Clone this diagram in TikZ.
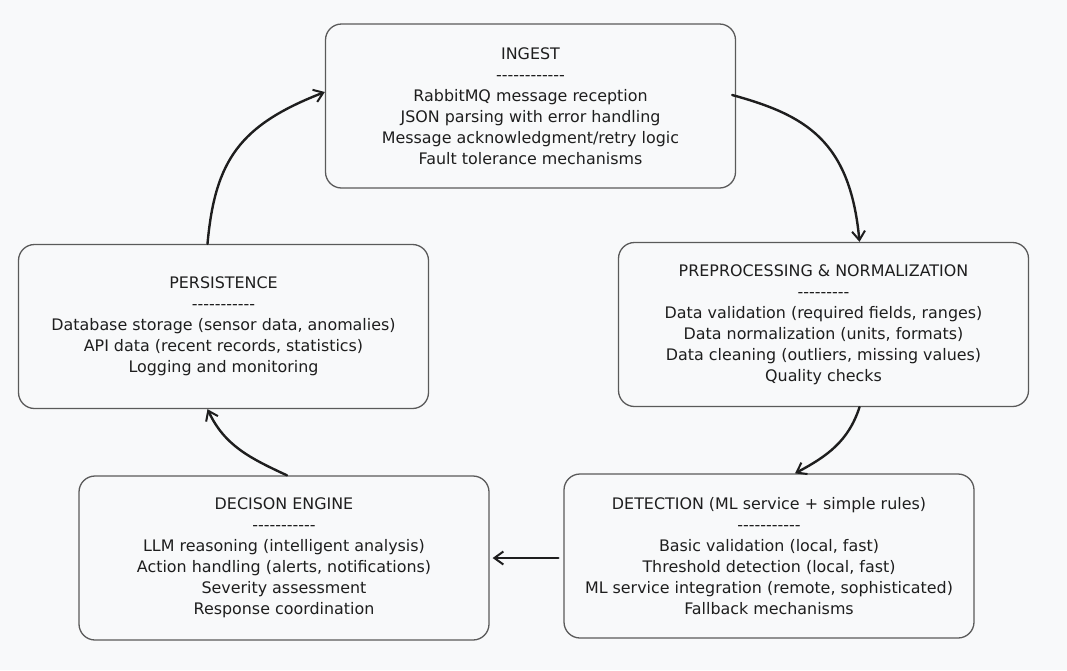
\documentclass[tikz,border=0pt]{standalone}
\usepackage{fontspec}
\setmainfont{DejaVu Sans}
\usetikzlibrary{arrows.meta}
\definecolor{bg}{HTML}{F8F9FA}
\definecolor{ink}{HTML}{1E1E1E}
\definecolor{edge}{HTML}{5A5A5A}
\newcommand{\hy}{-{}}
\begin{document}
\begin{tikzpicture}[x=1pt,y=-1pt,
  stage/.style={draw=edge, line width=1.3pt, rounded corners=16pt, fill=bg,
    text=ink, align=center, font=\fontsize{15.9}{21}\selectfont, inner sep=0pt,
    minimum width=410pt, minimum height=164pt},
  flow/.style={draw=ink, line width=2.4pt, line cap=round,
    -{Straight Barb[length=9pt,width=13pt,line width=2pt]}}]
\fill[bg] (0,0) rectangle (1067,670);
\useasboundingbox (0,0) rectangle (1067,670);

\node[stage] (ingest) at (530.5,106) {INGEST\\
  \hy\hy\hy\hy\hy\hy\hy\hy\hy\hy\hy\hy\\
  RabbitMQ message reception\\
  JSON parsing with error handling\\
  Message acknowledgment/retry logic\\
  Fault tolerance mechanisms};

\node[stage] (prep) at (823.5,324.5) {PREPROCESSING \& NORMALIZATION\\
  \hy\hy\hy\hy\hy\hy\hy\hy\hy\\
  Data validation (required fields, ranges)\\
  Data normalization (units, formats)\\
  Data cleaning (outliers, missing values)\\
  Quality checks};

\node[stage] (pers) at (223.5,326.5) {PERSISTENCE\\
  \hy\hy\hy\hy\hy\hy\hy\hy\hy\hy\hy\\
  Database storage (sensor data, anomalies)\\
  API data (recent records, statistics)\\
  Logging and monitoring};

\node[stage] (dec) at (284,558) {DECISON ENGINE\\
  \hy\hy\hy\hy\hy\hy\hy\hy\hy\hy\hy\\
  LLM reasoning (intelligent analysis)\\
  Action handling (alerts, notifications)\\
  Severity assessment\\
  Response coordination};

\node[stage] (det) at (769,556) {DETECTION (ML service + simple rules)\\
  \hy\hy\hy\hy\hy\hy\hy\hy\hy\hy\hy\\
  Basic validation (local, fast)\\
  Threshold detection (local, fast)\\
  ML service integration (remote, sophisticated)\\
  Fallback mechanisms};

\draw[flow] ([xshift=-16pt]pers.north) .. controls (215,160) and (240,125) .. ([yshift=14pt]ingest.west);
\draw[flow] ([xshift=-4pt,yshift=11pt]ingest.east) .. controls (805,115) and (850,140) .. ([xshift=36pt]prep.north);
\draw[flow] ([xshift=36pt]prep.south) to[out=-108,in=28] ([xshift=26pt]det.north);
\draw[flow] ([xshift=-5pt,yshift=-2pt]det.west) -- ([xshift=3pt]dec.east);
\draw[flow] ([xshift=3pt]dec.north) to[out=155,in=-65] ([xshift=-16pt]pers.south);
\end{tikzpicture}
\end{document}
